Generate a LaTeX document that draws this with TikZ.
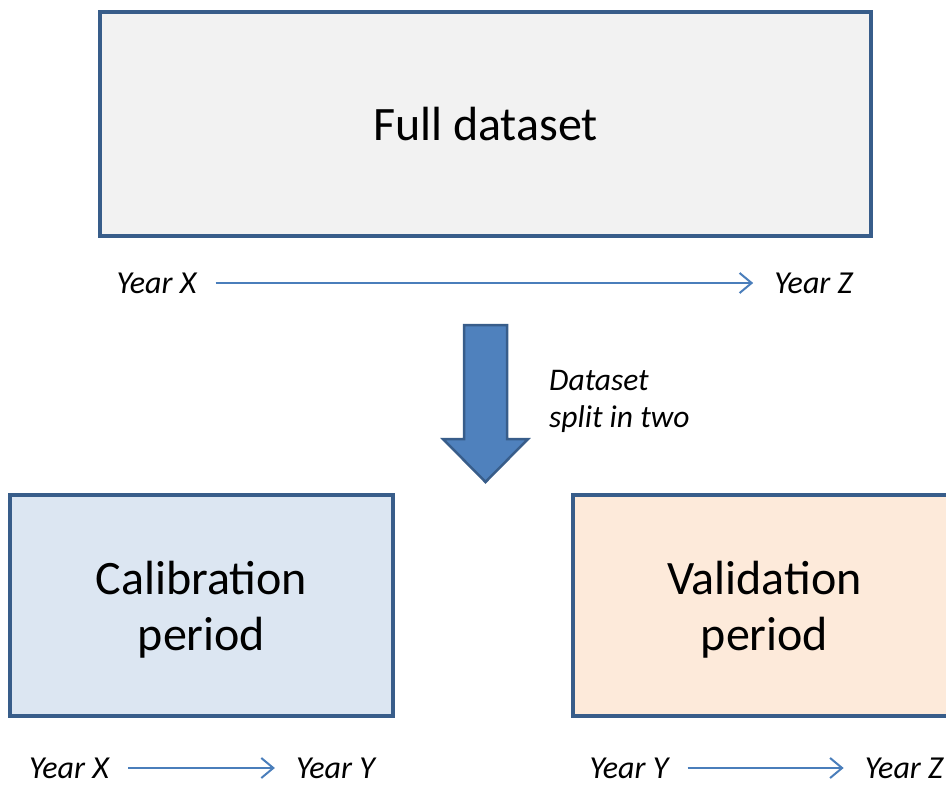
\documentclass[tikz,border=0pt]{standalone}
\usepackage{fontspec}
\setmainfont{Carlito}
\usetikzlibrary{arrows.meta}
\definecolor{boxline}{HTML}{385D8A}
\definecolor{fullfill}{HTML}{F2F2F2}
\definecolor{calfill}{HTML}{DCE6F2}
\definecolor{valfill}{HTML}{FDEADA}
\definecolor{bigfill}{HTML}{4F81BD}
\definecolor{timeline}{HTML}{4A7EBB}
\begin{document}
\begin{tikzpicture}[%
  x=1pt,y=-1pt,
  block/.style={rectangle,draw=boxline,line width=3.5pt,align=center,
    font=\fontsize{48}{56}\selectfont},
  full/.style={block,fill=fullfill,minimum width=771pt,minimum height=224pt},
  calib/.style={block,fill=calfill,minimum width=383pt,minimum height=221pt,
    text depth=0pt},
  valid/.style={calib,fill=valfill},
  year/.style={inner sep=0pt,font=\fontsize{32}{38}\selectfont\itshape},
  note/.style={inner sep=0pt,align=left,font=\fontsize{31.5}{37}\selectfont\itshape},
  period/.style={draw=timeline,line width=2pt,
    -{Straight Barb[length=12pt,width=20pt,line width=2pt]},
    shorten <=19pt,shorten >=21pt},
  bigarrow/.style={draw=boxline,line width=2.5pt,fill=bigfill,line join=miter}]
    \useasboundingbox (0,0) rectangle (946,785);
    \clip (0,0) rectangle (946,785);
    % Full dataset
    \node[full] (full) at (485.5,124) {Full dataset};
    \node[year] (fx) at (156.5,283) {Year X};
    \node[year] (fz) at (813.5,283) {Year Z};
    \draw[period] (fx.east) -- (fz.west);
    % Split
    \draw[bigarrow] (464,325) -- (507,325) -- (507,439) -- (528,439)
      -- (485.5,482) -- (443,439) -- (464,439) -- cycle;
    \node[note,anchor=north west] (split) at (549,370) {Dataset\\split in two};
    % Calibration and validation
    \node[calib] (calib) at (201.5,605.5) {Calibration\\period};
    \node[valid] (valid) at (764.5,605.5) {Validation\\period};
    \node[year] (cx) at (69,768) {Year X};
    \node[year] (cy) at (335.5,768) {Year Y};
    \draw[period] (cx.east) -- (cy.west);
    \node[year] (vy) at (629,768) {Year Y};
    \node[year] (vz) at (904,768) {Year Z};
    \draw[period] (vy.east) -- (vz.west);
\end{tikzpicture}
\end{document}
